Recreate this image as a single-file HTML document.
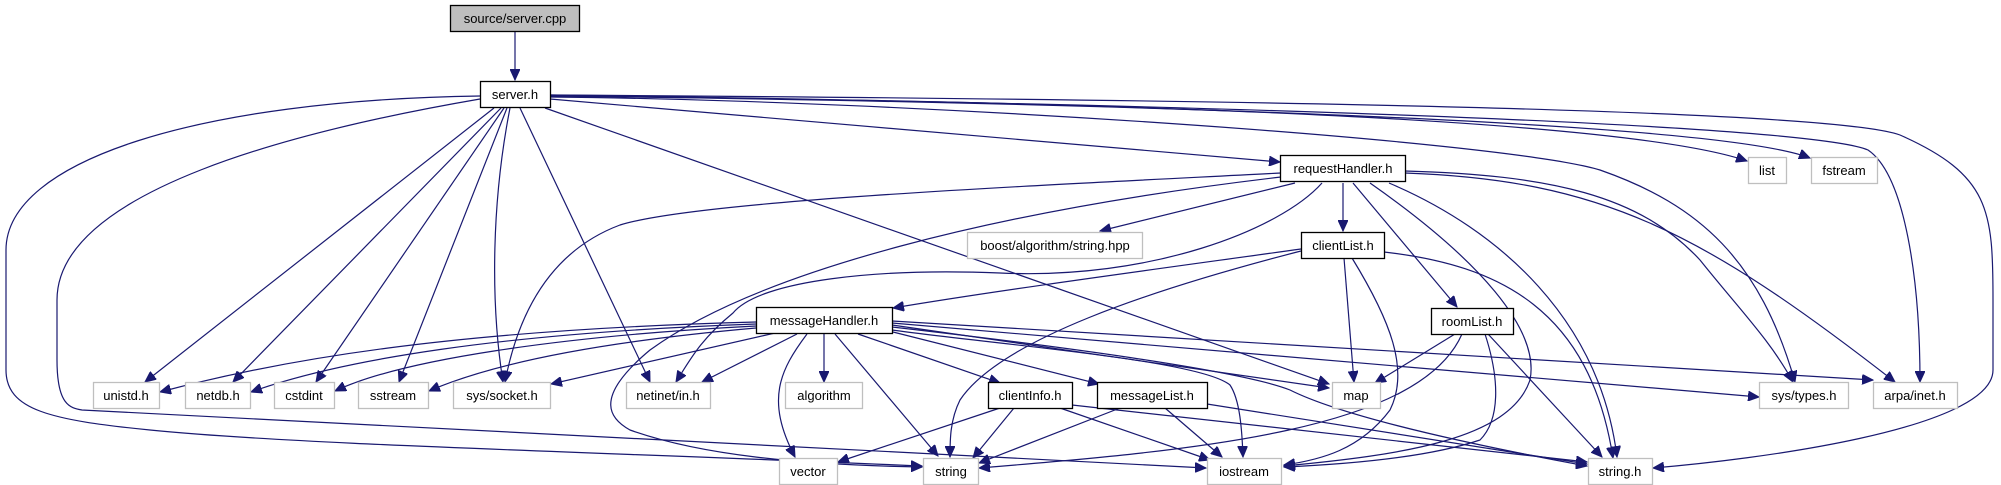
<!DOCTYPE html>
<html><head><meta charset="utf-8"><style>
html,body{margin:0;padding:0;background:#fff}
svg{display:block}
text{font-family:"Liberation Sans",sans-serif;font-size:13px;fill:#000;text-anchor:middle}
path{fill:none;stroke:#191970;stroke-width:1.2}
.int{fill:#fff;stroke:#000;stroke-width:1.3}
.ext{fill:#fff;stroke:#bfbfbf;stroke-width:1.3}
</style></head><body>
<svg width="2001" height="485" viewBox="0 0 2001 485" xmlns="http://www.w3.org/2000/svg">
<defs><marker id="a" markerUnits="userSpaceOnUse" markerWidth="12" markerHeight="10" refX="11" refY="5" orient="auto"><path d="M0,0 L11,5 L0,10 Z" style="fill:#191970;stroke:#191970;stroke-width:1"/></marker></defs>
<g marker-end="url(#a)">
<!-- server.cpp -->
<path d="M515,32 L515,80"/>
<!-- server.h -->
<path d="M494,108 L145,382"/>
<path d="M501,108 L233,382"/>
<path d="M504,108 L316,382"/>
<path d="M507,108 L399,382"/>
<path d="M510,108 C492,200 490,300 503,382"/>
<path d="M520,108 L650,382"/>
<path d="M545,108 L1329,384"/>
<path d="M550,99 L1280,162"/>
<path d="M480,96 C200,100 6,160 6,250 L6,370 C6,410 50,420 150,430 C300,445 600,452 922,466"/>
<path d="M480,99 C300,130 57,190 57,300 L57,360 C57,405 70,408 82,410 L1206,468"/>
<path d="M550,95 C900,100 1600,110 1747,161"/>
<path d="M550,96 C900,100 1700,115 1810,158"/>
<path d="M550,97 C900,100 1500,140 1600,170 C1700,205 1760,260 1795,382"/>
<path d="M550,96 C1000,100 1800,120 1868,150 C1905,175 1920,280 1920,382"/>
<path d="M550,95 C1000,98 1820,105 1900,135 C1990,175 1993,210 1993,300 L1993,370 C1993,430 1750,460 1653,468"/>
<!-- requestHandler.h -->
<path d="M1295,183 L1100,231"/>
<path d="M1343,183 L1343,231"/>
<path d="M1353,183 L1457,307"/>
<path d="M1281,173 C1050,185 700,200 620,225 C540,255 515,330 505,382"/>
<path d="M1322,183 C1280,230 1150,280 1000,273 C880,268 760,280 733,313 C700,340 690,360 676,382"/>
<path d="M1281,177 C1000,210 760,270 650,350 C590,400 612,420 630,430 C700,455 800,465 922,467"/>
<path d="M1405,171 C1550,175 1640,195 1700,260 C1740,310 1770,340 1793,382"/>
<path d="M1405,173 C1600,180 1700,230 1895,382"/>
<path d="M1370,183 C1480,260 1540,330 1530,380 C1510,440 1400,455 1284,466"/>
<path d="M1389,183 C1500,230 1600,320 1617,457"/>
<!-- clientList.h -->
<path d="M1301,249 C1150,270 1000,290 893,308"/>
<path d="M1344,258 L1354,382"/>
<path d="M1352,258 C1390,320 1410,370 1390,410 C1360,450 1320,460 1284,465"/>
<path d="M1384,252 C1500,265 1590,310 1613,458"/>
<path d="M1301,251 C1150,290 1000,340 960,400 C950,420 950,440 950,457"/>
<!-- roomList.h -->
<path d="M1455,334 L1375,383"/>
<path d="M1462,334 C1420,430 1200,450 979,468"/>
<path d="M1485,334 C1500,380 1500,420 1480,440 C1420,460 1330,465 1284,467"/>
<path d="M1488,334 L1602,457"/>
<!-- messageHandler.h -->
<path d="M756,322 C450,330 280,360 160,392"/>
<path d="M756,324 C500,333 340,360 251,392"/>
<path d="M756,326 C560,336 400,360 335,391"/>
<path d="M756,328 C620,340 500,360 429,391"/>
<path d="M775,333 L551,384"/>
<path d="M797,334 L702,382"/>
<path d="M824,334 L824,382"/>
<path d="M807,334 C780,370 765,400 795,457"/>
<path d="M835,334 L938,456"/>
<path d="M858,334 L1000,383"/>
<path d="M893,332 L1099,384"/>
<path d="M892,325 L1329,388"/>
<path d="M892,330 C1000,345 1200,360 1230,385 C1240,400 1242,430 1243,457"/>
<path d="M892,327 C1050,345 1240,370 1290,390 C1350,420 1500,450 1587,466"/>
<path d="M892,323 L1759,397"/>
<path d="M892,321 L1873,380"/>
<!-- clientInfo.h -->
<path d="M1000,408 L838,462"/>
<path d="M1014,408 L973,458"/>
<path d="M1060,408 L1210,460"/>
<path d="M1072,405 L1587,462"/>
<!-- messageList.h -->
<path d="M1120,408 L979,463"/>
<path d="M1165,408 L1222,457"/>
<path d="M1207,404 L1587,464"/>
</g>
<!-- nodes -->
<rect x="450.5" y="5.5" width="129" height="26" style="fill:#bfbfbf;stroke:#000;stroke-width:1.3"/><text x="515" y="23">source/server.cpp</text>
<rect class="int" x="480.5" y="81.5" width="70" height="26"/><text x="515" y="99">server.h</text>
<rect class="int" x="1280.5" y="155.5" width="125" height="26"/><text x="1343" y="173">requestHandler.h</text>
<rect class="int" x="1301.5" y="232.5" width="83" height="26"/><text x="1343" y="250">clientList.h</text>
<rect class="int" x="1431.5" y="308.5" width="82" height="26"/><text x="1472" y="326">roomList.h</text>
<rect class="int" x="756.5" y="307.5" width="136" height="26"/><text x="824" y="325">messageHandler.h</text>
<rect class="int" x="988.5" y="382.5" width="84" height="26"/><text x="1030" y="400">clientInfo.h</text>
<rect class="int" x="1097.5" y="382.5" width="110" height="26"/><text x="1152" y="400">messageList.h</text>
<rect class="ext" x="967.5" y="232.5" width="175" height="26"/><text x="1055" y="250">boost/algorithm/string.hpp</text>
<rect class="ext" x="1748.5" y="157.5" width="38" height="26"/><text x="1767" y="175">list</text>
<rect class="ext" x="1811.5" y="157.5" width="66" height="26"/><text x="1844" y="175">fstream</text>
<rect class="ext" x="93.5" y="382.5" width="66" height="26"/><text x="126" y="400">unistd.h</text>
<rect class="ext" x="185.5" y="382.5" width="65" height="26"/><text x="218" y="400">netdb.h</text>
<rect class="ext" x="274.5" y="382.5" width="60" height="26"/><text x="304" y="400">cstdint</text>
<rect class="ext" x="358.5" y="382.5" width="70" height="26"/><text x="393" y="400">sstream</text>
<rect class="ext" x="453.5" y="382.5" width="97" height="26"/><text x="502" y="400">sys/socket.h</text>
<rect class="ext" x="626.5" y="382.5" width="84" height="26"/><text x="668" y="400">netinet/in.h</text>
<rect class="ext" x="785.5" y="382.5" width="77" height="26"/><text x="824" y="400">algorithm</text>
<rect class="ext" x="1332.5" y="382.5" width="48" height="26"/><text x="1356" y="400">map</text>
<rect class="ext" x="1759.5" y="382.5" width="89" height="26"/><text x="1804" y="400">sys/types.h</text>
<rect class="ext" x="1873.5" y="382.5" width="84" height="26"/><text x="1915" y="400">arpa/inet.h</text>
<rect class="ext" x="779.5" y="458.5" width="58" height="26"/><text x="808" y="476">vector</text>
<rect class="ext" x="923.5" y="458.5" width="55" height="26"/><text x="951" y="476">string</text>
<rect class="ext" x="1207.5" y="458.5" width="74" height="26"/><text x="1244" y="476">iostream</text>
<rect class="ext" x="1588.5" y="458.5" width="64" height="26"/><text x="1620" y="476">string.h</text>
</svg>
</body></html>
